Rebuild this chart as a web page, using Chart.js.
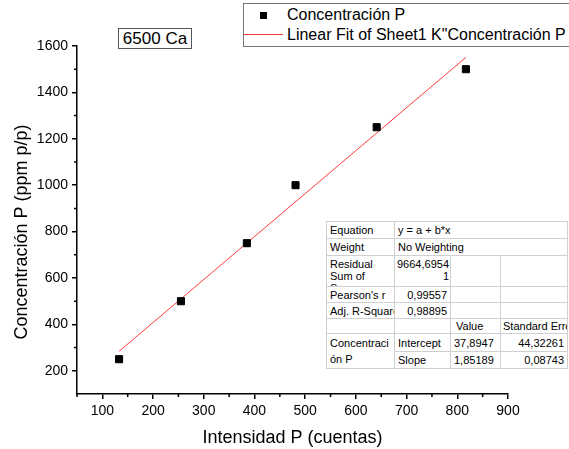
<!DOCTYPE html>
<html>
<head>
<meta charset="utf-8">
<script src="https://cdn.jsdelivr.net/npm/chart.js@4.4.0/dist/chart.umd.min.js"></script>
<style>
html, body { margin: 0; padding: 0; background: #fff; }
#wrap { position: relative; width: 569px; height: 449px; overflow: hidden; font-family: "Liberation Sans", Arial, sans-serif; color: #000; }
#chart { position: absolute; left: 0; top: 0; }
#tag { position: absolute; left: 118px; top: 28px; width: 72px; height: 19px; border: 1px solid #555; background: #fff;
       font-size: 17px; line-height: 19px; text-align: center; }
#legend { position: absolute; left: 243px; top: 3px; width: 340px; height: 42px; border: 1px solid #777; background: #fff; }
#legend .sq { position: absolute; left: 16px; top: 8px; width: 7px; height: 7px; background: #000; }
#legend .ln { position: absolute; left: 0; top: 30px; width: 39px; height: 1px; background: #f33; }
#legend span { position: absolute; left: 43px; font-size: 16px; line-height: 18px; white-space: nowrap; }
#stats { position: absolute; left: 326px; top: 221px; width: 241px; height: 145px; border-collapse: collapse; table-layout: fixed;
         background: #fff; border: 1px solid #888; font-size: 11px; }
#stats td { border: 1px solid #d0d0d0; padding: 0 3px; white-space: nowrap; overflow: hidden; }
#stats td.r { text-align: right; }
#stats td.top { vertical-align: top; }
#stats .cl { height: 28px; overflow: hidden; line-height: 12px; padding-top: 2px; }
</style>
</head>
<body>
<div id="wrap">
  <canvas id="chart" width="569" height="449"></canvas>
  <div id="tag">6500 Ca</div>
  <div id="legend">
    <div class="sq"></div><span id="lg1" style="top:2px"></span>
    <div class="ln"></div><span id="lg2" style="top:22px"></span>
  </div>
  <table id="stats">
    <colgroup><col style="width:68px"><col style="width:56px"><col style="width:50px"><col style="width:67px"></colgroup>
    <tr style="height:17px"><td>Equation</td><td colspan="3">y = a + b*x</td></tr>
    <tr style="height:17px"><td>Weight</td><td colspan="3">No Weighting</td></tr>
    <tr style="height:29px"><td class="top"><div class="cl">Residual<br>Sum of<br>Squares</div></td>
        <td class="r top" style="padding:0 1px 0 0"><div class="cl">9664,6954<br>1</div></td><td></td><td></td></tr>
    <tr style="height:16px"><td>Pearson's r</td><td class="r">0,99557</td><td></td><td></td></tr>
    <tr style="height:16px"><td>Adj. R-Square</td><td class="r">0,98895</td><td></td><td></td></tr>
    <tr style="height:15px"><td></td><td></td><td style="padding-left:5px">Value</td><td style="padding-left:2px">Standard Error</td></tr>
    <tr style="height:18px"><td rowspan="2" style="line-height:16px;white-space:normal;word-break:break-all">Concentración P</td>
        <td>Intercept</td><td class="r" style="padding-right:7px">37,8947</td><td class="r">44,32261</td></tr>
    <tr style="height:17px"><td>Slope</td><td class="r" style="padding-right:7px">1,85189</td><td class="r">0,08743</td></tr>
  </table>
</div>
<script>
const xVals = [133, 255, 385, 481, 641, 817];
const yVals = [250, 500, 750, 1000, 1250, 1500];
// linear fit line endpoints
const fitX = [133, 817];
const fitY = [284, 1551];

const xMajor = [100, 200, 300, 400, 500, 600, 700, 800, 900];
const xMinor = [50, 150, 250, 350, 450, 550, 650, 750, 850];
const yMajor = [200, 400, 600, 800, 1000, 1200, 1400, 1600];
const yMinor = [300, 500, 700, 900, 1100, 1300, 1500];

const seriesNames = ['Concentración P', 'Linear Fit of Sheet1 K"Concentración P'];
const xTitle = 'Intensidad P (cuentas)';
const yTitle = 'Concentración P (ppm p/p)';

document.getElementById('lg1').textContent = seriesNames[0];
document.getElementById('lg2').textContent = seriesNames[1];

const FONT = '"Liberation Sans", Arial, sans-serif';

// minor ticks + axis titles
const extras = {
    id: 'extras',
    afterDraw(chart) {
        const ctx = chart.ctx;
        const xs = chart.scales.x, ys = chart.scales.y;
        const ca = chart.chartArea;
        ctx.save();
        ctx.strokeStyle = '#000';
        ctx.lineWidth = 1.5;
        ctx.beginPath();
        xMinor.forEach(v => {
            const p = xs.getPixelForValue(v);
            ctx.moveTo(p, ca.bottom);
            ctx.lineTo(p, ca.bottom + 3);
        });
        yMinor.forEach(v => {
            const p = ys.getPixelForValue(v);
            ctx.moveTo(ca.left, p);
            ctx.lineTo(ca.left - 3, p);
        });
        ctx.stroke();

        ctx.fillStyle = '#000';
        ctx.font = '18px ' + FONT;
        ctx.textAlign = 'center';
        ctx.textBaseline = 'middle';
        ctx.fillText(xTitle, (ca.left + ca.right) / 2, 438);
        ctx.translate(22, 232);
        ctx.rotate(-Math.PI / 2);
        ctx.fillText(yTitle, 0, 0);
        ctx.restore();
    }
};

const axisCommon = {
    type: 'linear',
    border: { display: true, color: '#000', width: 1.5 },
    grid: { drawOnChartArea: false, drawTicks: true, tickLength: 5, color: '#000', lineWidth: 1.5 },
    ticks: { color: '#000', font: { family: FONT, size: 14 }, padding: 4, callback: v => String(v) }
};

new Chart(document.getElementById('chart'), {
    type: 'scatter',
    data: {
        datasets: [{
            label: seriesNames[0],
            data: xVals.map((x, i) => ({ x: x, y: yVals[i] })),
            pointStyle: 'rect',
            pointRadius: 5,
            backgroundColor: '#000',
            borderColor: '#000',
            borderWidth: 1,
            showLine: false,
            order: 1
        }, {
            label: seriesNames[1],
            data: fitX.map((x, i) => ({ x: x, y: fitY[i] })),
            showLine: true,
            pointRadius: 0,
            borderColor: '#ff3b3b',
            borderWidth: 1,
            order: 2
        }]
    },
    options: {
        responsive: false,
        animation: false,
        layout: { padding: { top: 46, right: 61, left: 0, bottom: 0 } },
        plugins: { legend: { display: false }, tooltip: { enabled: false } },
        scales: {
            x: Object.assign({}, axisCommon, {
                min: 50, max: 900,
                afterBuildTicks: s => { s.ticks = xMajor.map(v => ({ value: v })); },
                afterFit: s => { s.height = 55; }
            }),
            y: Object.assign({}, axisCommon, {
                min: 100, max: 1600,
                afterBuildTicks: s => { s.ticks = yMajor.map(v => ({ value: v })); },
                afterFit: s => { s.width = 77; }
            })
        }
    },
    plugins: [extras]
});
</script>
</body>
</html>
